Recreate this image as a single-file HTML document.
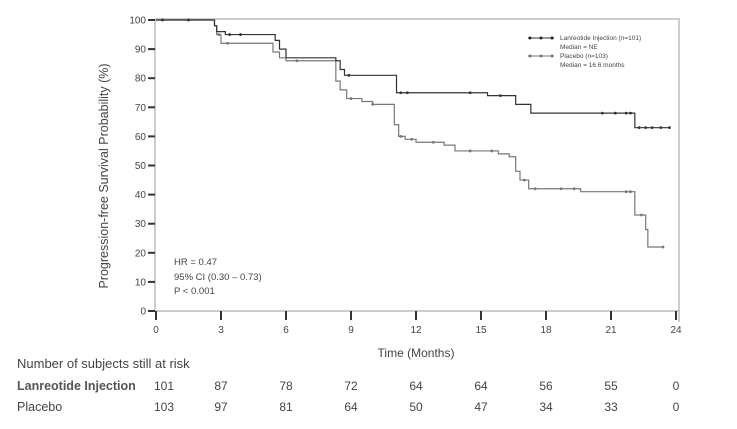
<!DOCTYPE html>
<html><head><meta charset="utf-8"><style>
html,body{margin:0;padding:0;background:#fff;}
svg{display:block;font-family:"Liberation Sans",sans-serif;}
</style></head><body>
<svg id="chart" width="737" height="429" viewBox="0 0 737 429" xmlns="http://www.w3.org/2000/svg">
<rect width="737" height="429" fill="#fff"/>
<g id="axes"></g>
<g id="curves"></g>
<g id="legend">
  <line x1="528" y1="38" x2="554" y2="38" stroke="#333" stroke-width="1"/>
  <circle cx="530" cy="38" r="1.5" fill="#222"/><circle cx="541" cy="38" r="1.5" fill="#222"/><circle cx="552" cy="38" r="1.5" fill="#222"/>
  <text x="560" y="40" font-size="6.5" fill="#444">Lanreotide Injection (n=101)</text>
  <text x="560" y="49" font-size="6.5" fill="#444">Median = NE</text>
  <line x1="528" y1="56" x2="554" y2="56" stroke="#777" stroke-width="1"/>
  <circle cx="530" cy="56" r="1.5" fill="#777"/><circle cx="541" cy="56" r="1.5" fill="#777"/><circle cx="552" cy="56" r="1.5" fill="#777"/>
  <text x="560" y="58" font-size="6.5" fill="#444">Placebo (n=103)</text>
  <text x="560" y="67" font-size="6.5" fill="#444">Median = 16.6 months</text>
</g>
<g font-size="9.5" fill="#444">
  <text x="174" y="265">HR = 0.47</text>
  <text x="174" y="280">95% CI (0.30 – 0.73)</text>
  <text x="174" y="294">P &lt; 0.001</text>
</g>
<text transform="translate(108,176) rotate(-90)" text-anchor="middle" font-size="12.5" fill="#444">Progression-free Survival Probability (%)</text>
<text x="416" y="357" text-anchor="middle" font-size="12" fill="#444">Time (Months)</text>
<text x="17" y="368" font-size="13" fill="#444">Number of subjects still at risk</text>
<text x="17" y="390" font-size="12.5" font-weight="bold" fill="#555">Lanreotide Injection</text>
<text x="17" y="411" font-size="12.5" fill="#444">Placebo</text>
<g id="risk"></g>
</svg>
<script>
const xTicks = [0,3,6,9,12,15,18,21,24];
const yTicks = [0,10,20,30,40,50,60,70,80,90,100];
const lanT = [0,2.7,2.8,3.2,5.5,5.7,6.0,8.3,8.5,8.7,11.1,15.3,16.6,17.3,22.1,23.7];
const lanS = [100,98,96,95,93,90,87,86,83,81,75,74,71,68,63,63];
const plaT = [0,2.7,2.8,3.0,5.4,5.7,6.0,8.3,8.5,8.8,9.5,10.0,11.0,11.2,11.5,12.0,13.3,13.8,15.8,16.3,16.6,16.8,17.2,19.6,22.1,22.6,22.7,23.4];
const plaS = [100,98,95,92,89,87,86,79,76,73,72,71,64,60,59,58,57,55,54,53,48,45,42,41,33,28,22,22];
const lanCens = [0.3,1.5,3.4,3.9,8.9,11.3,11.6,14.5,15.9,20.6,21.2,21.7,21.9,22.3,22.6,22.9,23.3,23.7];
const plaCens = [0.3,1.5,2.9,3.3,6.5,9.0,10.0,11.3,11.8,12.8,14.5,15.5,17.0,17.5,18.7,19.3,21.7,21.9,22.4,23.4];
const riskLan = [101,87,78,72,64,64,56,55,0];
const riskPla = [103,97,81,64,50,47,34,33,0];

const NS="http://www.w3.org/2000/svg";
const X = t => 156 + t*(520/24);
const Y = s => 311 - s*2.91;
function mk(tag, attrs, parent){const e=document.createElementNS(NS,tag);for(const k in attrs)e.setAttribute(k,attrs[k]);parent.appendChild(e);return e;}
const axes=document.getElementById('axes');
const fr=mk('path',{d:`M155,19 H679 V322 M155,19 V311 H679`,fill:'none',stroke:'#bbb','stroke-width':1.5},axes);


yTicks.forEach(v=>{
  const l=mk('line',{x1:148,x2:155,y1:Y(v),y2:Y(v),stroke:'#333','stroke-width':2},axes);
  
  
  const t=mk('text',{x:146,y:Y(v)+3.5,'text-anchor':'end','font-size':10,fill:'#444'},axes);
  t.textContent=v;
  
  
});
xTicks.forEach(v=>{
  const l=mk('line',{x1:X(v),x2:X(v),y1:311,y2:320,stroke:'#333','stroke-width':2},axes);
  
  
  const t=mk('text',{x:X(v),y:333,'text-anchor':'middle','font-size':10,fill:'#444'},axes);
  t.textContent=v;
  
  
});
function stepAt(T,S,t){let s=S[0];for(let i=0;i<T.length;i++){if(T[i]<=t)s=S[i];}return s;}
function curve(T,S,C,color,name){
  const g=document.getElementById('curves');
  let d=`M${X(T[0])},${Y(S[0])}`;
  for(let i=1;i<T.length;i++){d+=` H${X(T[i])} V${Y(S[i])}`;}
  const p=mk('path',{d,fill:'none',stroke:color,'stroke-width':1.2},g);
  
  
  C.forEach(t=>{
    const c=mk('circle',{cx:X(t),cy:Y(stepAt(T,S,t)),r:1.4,fill:color},g);
    
    
  });
}
curve(plaT,plaS,plaCens,'#777','placebo-curve');
curve(lanT,lanS,lanCens,'#333','lanreotide-curve');
const risk=document.getElementById('risk');
xTicks.forEach((v,i)=>{
  const a=mk('text',{x:X(v)+(i==0?8:0),y:390,'text-anchor':'middle','font-size':12,fill:'#444'},risk);
  a.textContent=riskLan[i];
  
  
  const b=mk('text',{x:X(v)+(i==0?8:0),y:411,'text-anchor':'middle','font-size':12,fill:'#444'},risk);
  b.textContent=riskPla[i];
  
  
});
</script>
</body></html>
